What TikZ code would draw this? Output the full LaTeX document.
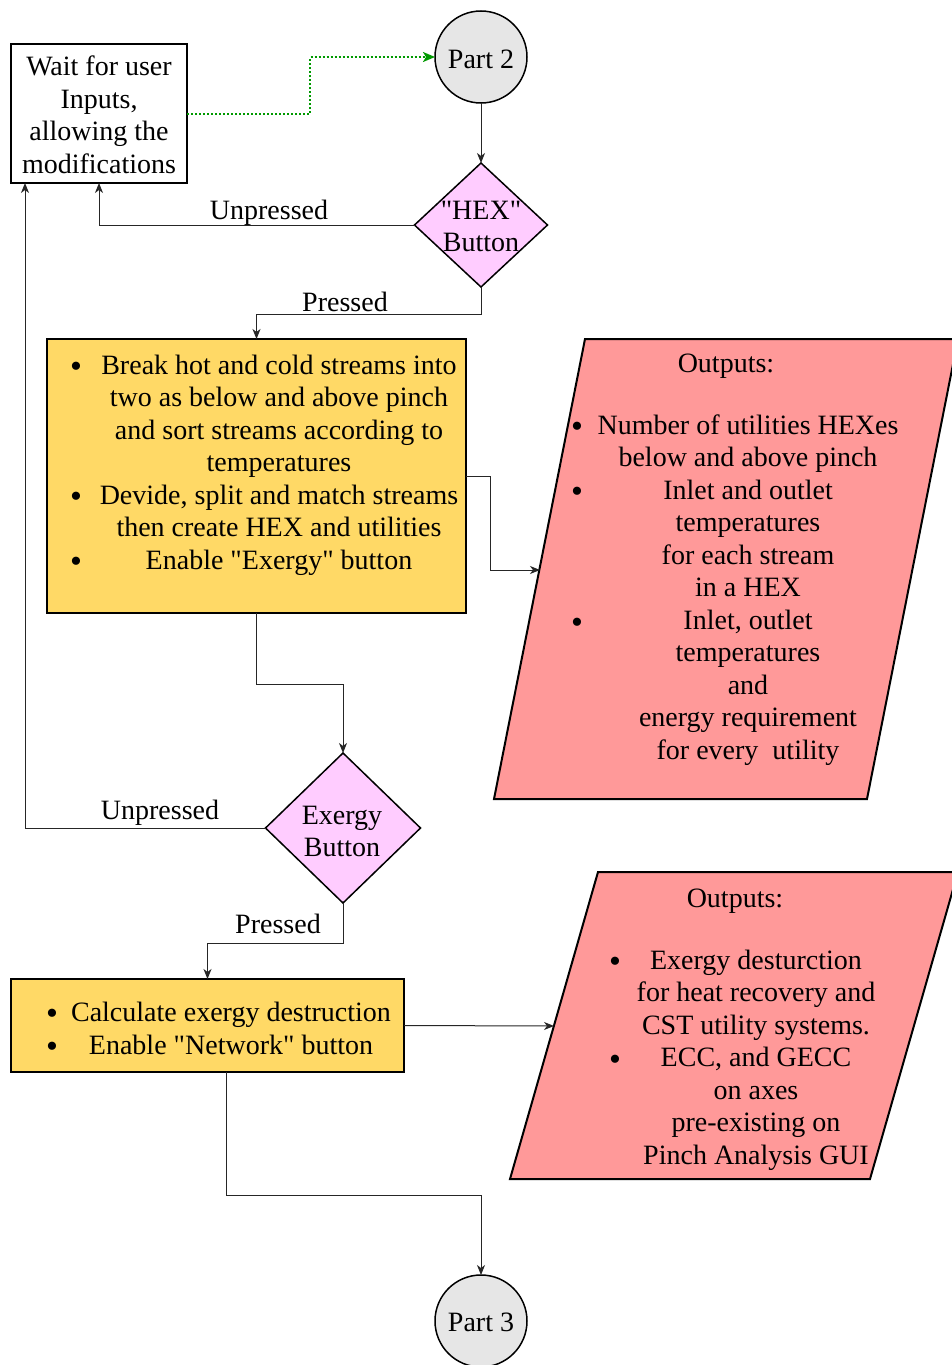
\documentclass[tikz,border=0pt]{standalone}
\usepackage{fontspec}
\newfontfamily\tnr{Liberation Serif}
\usetikzlibrary{shapes.geometric,arrows.meta}
\definecolor{boxyellow}{HTML}{FFD966}
\definecolor{decpink}{HTML}{FFCCFF}
\definecolor{outred}{HTML}{FF9999}
\definecolor{termgray}{HTML}{E6E6E6}
\definecolor{dotgreen}{HTML}{009900}
\begin{document}
\begin{tikzpicture}[x=1pt,y=-1pt,
  font=\tnr\fontsize{28}{32.5}\selectfont,
  every node/.style={inner sep=0pt, outer sep=0pt},
  procbox/.style={draw, line width=2pt, fill=boxyellow},
  waitbox/.style={draw, line width=2pt, fill=white},
  decision/.style={diamond, draw, line width=1.5pt, fill=decpink},
  terminal/.style={circle, draw, line width=1.5pt, fill=termgray, minimum size=92pt},
  outshape/.style={draw, line width=2pt, fill=outred},
  txt/.style={align=center},
  bul/.style={font=\tnr\fontsize{34}{34}\selectfont, yshift=-5.7pt},
  conn/.style={draw=black!85, line width=1pt, -{Stealth[length=10pt,width=8pt,inset=3pt]}},
  greenconn/.style={draw=dotgreen, line width=2pt, dash pattern=on 2pt off 2pt, -{Stealth[length=12pt,width=10pt,inset=3pt,fill=dotgreen]}},
]
\useasboundingbox (0,0) rectangle (951,1365);

% shapes
\node[waitbox, minimum width=176pt, minimum height=139pt] (wait) at (99,113.5) {};
\node[txt] (waitt) at (99,115) {Wait for user\\Inputs,\\allowing the\\modifications};
\node[terminal] (part2) at (481,57) {};
\node (part2t) at (481,59) {Part 2};
\node[decision, minimum width=133pt, minimum height=124pt] (hex) at (481,225) {};
\node[txt] (hext) at (481,226.5) {"HEX"\\Button};

\node[procbox, minimum width=419pt, minimum height=274pt] (box1) at (256.5,476) {};
\node[txt] (box1t) at (279,465) {Break hot and cold streams into\\two as below and above pinch\\and sort streams according to\\temperatures\\Devide, split and match streams\\then create HEX and utilities\\Enable "Exergy" button};
\node[bul] (b11) at (76,364) {\textbullet};
\node[bul] (b12) at (76,494) {\textbullet};
\node[bul] (b13) at (76,559) {\textbullet};

\draw[outshape] (585,339) -- (958,339) -- (867,799) -- (494,799) -- cycle;
\coordinate (p1in) at (540,570);
\node (p1title) at (726,366) {Outputs:};
\node[txt] (p1t) at (748,590) {Number of utilities HEXes\\below and above pinch\\Inlet and outlet\\temperatures\\for each stream\\in a HEX\\Inlet, outlet\\temperatures\\and\\energy requirement\\for every\ \ utility};
\node[bul] (b21) at (577,424) {\textbullet};
\node[bul] (b22) at (577,489) {\textbullet};
\node[bul] (b23) at (577,620) {\textbullet};

\node[decision, minimum width=155pt, minimum height=150pt] (exd) at (343,828) {};
\node[txt] (exdt) at (342,831.5) {Exergy\\Button};

\node[procbox, minimum width=393pt, minimum height=93pt] (box2) at (207.5,1025.5) {};
\node[txt] (box2t) at (231,1028.5) {Calculate exergy destruction\\Enable "Network" button};
\node[bul] (b31) at (52,1011) {\textbullet};
\node[bul] (b32) at (52,1044) {\textbullet};

\draw[outshape] (598,872) -- (958,872) -- (870,1179) -- (510,1179) -- cycle;
\coordinate (p2in) at (554,1026);
\node (p2title) at (735,901) {Outputs:};
\node[txt] (p2t) at (756,1060) {Exergy desturction\\for heat recovery and\\CST utility systems.\\ECC, and GECC\\on axes\\pre-existing on\\Pinch Analysis GUI};
\node[bul] (b41) at (615,959) {\textbullet};
\node[bul] (b42) at (615,1057) {\textbullet};

\node[terminal] (part3) at (481,1321) {};
\node (part3t) at (481,1322.5) {Part 3};

% labels
\node (l1) at (269,212.5) {Unpressed};
\node (l2) at (345,302) {Pressed};
\node (l3) at (160,812.5) {Unpressed};
\node (l4) at (278,924) {Pressed};

% connectors
\draw[greenconn] (wait.east) -- ++(123,0) |- (part2.west);
\draw[conn] (part2.south) -- (hex.north);
\draw[conn] (hex.west) -| (wait.south);
\draw[conn] (hex.south) -- ++(0,27) -| (box1.north);
\draw[conn] (box1.east) -- ++(24,0) |- (p1in);
\draw[conn] (box1.south) -- ++(0,71) -| (exd.north);
\draw[conn] (exd.west) -| ([xshift=14pt]wait.south west);
\draw[conn] (exd.south) -- ++(0,40) -| (box2.north);
\draw[conn] (box2.east) -- (p2in);
\draw[conn] ([xshift=18.5pt]box2.south) -- ++(0,123) -| (part3.north);
\end{tikzpicture}
\end{document}
